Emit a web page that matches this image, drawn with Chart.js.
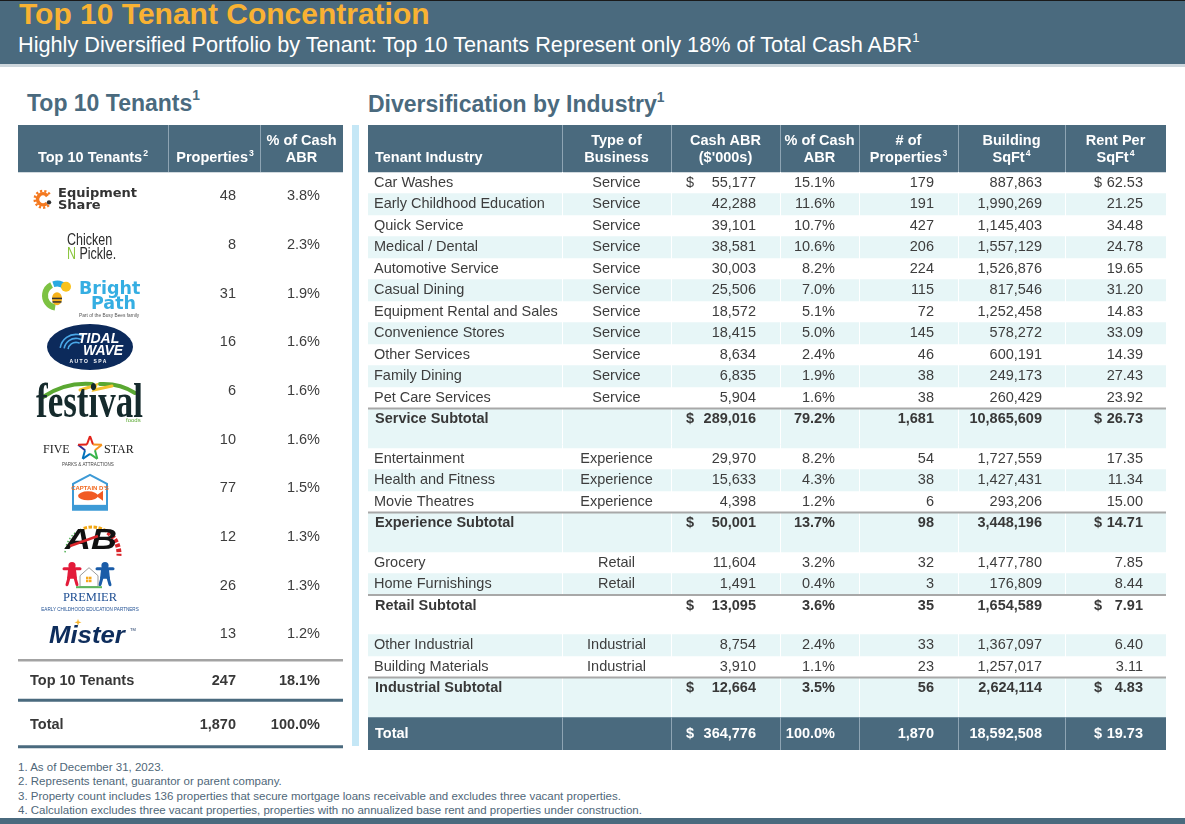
<!DOCTYPE html>
<html>
<head>
<meta charset="utf-8">
<title>Top 10 Tenant Concentration</title>
<script src="https://cdn.jsdelivr.net/npm/chart.js@4.4.1/dist/chart.umd.min.js"></script>
<style>
  html, body { margin: 0; padding: 0; }
  body { width: 1185px; height: 824px; position: relative; overflow: hidden; background: #fff;
         font-family: "Liberation Sans", Arial, sans-serif; }
  .abs { position: absolute; white-space: nowrap; }
  #band { left: 0; top: 0; width: 1185px; height: 64px; background: #4a6a7e; border-top: 1px solid #1a1a1a; box-sizing: border-box; }
  #bandLine { left: 0; top: 64px; width: 1185px; height: 3px; background: #cdd6dc; }
  #title { left: 19px; top: -1px; font-size: 30px; line-height: 30px; font-weight: bold; color: #f9b233; }
  #subtitle { left: 18px; top: 34px; font-size: 21.7px; line-height: 21.7px; color: #fff; }
  .sup { font-size: 60%; position: relative; top: -0.75em; }
  .heading { font-size: 23px; line-height: 23px; font-weight: bold; color: #4a6a7e; }
  #leftBox { left: 18px; top: 125px; width: 325px; height: 625px; }
  #rightBox { left: 368px; top: 125px; width: 798px; height: 625px; }
  #divider { left: 352px; top: 125px; width: 7px; height: 621px; background: #c5e7f6; }
  #notes { left: 18px; top: 760px; font-size: 11.5px; line-height: 14.3px; color: #4f6779; }
  #footBand { left: 0; top: 818px; width: 1185px; height: 6px; background: #4a6a7e; }
</style>
</head>
<body>
<div id="band" class="abs"></div>
<div id="bandLine" class="abs"></div>
<div id="title" class="abs">Top 10 Tenant Concentration</div>
<div id="subtitle" class="abs">Highly Diversified Portfolio by Tenant: Top 10 Tenants Represent only 18% of Total Cash ABR<span class="sup">1</span></div>

<div class="abs heading" style="left:27px; top:91.5px;">Top 10 Tenants<span class="sup">1</span></div>
<div class="abs heading" style="left:368px; top:93px;">Diversification by Industry<span class="sup">1</span></div>

<div id="leftBox" class="abs"><canvas id="tenantTable"></canvas></div>
<div id="divider" class="abs"></div>
<div id="rightBox" class="abs"><canvas id="industryTable"></canvas></div>

<div id="notes" class="abs">1. As of December 31, 2023.<br>2. Represents tenant, guarantor or parent company.<br>3. Property count includes 136 properties that secure mortgage loans receivable and excludes three vacant properties.<br>4. Calculation excludes three vacant properties, properties with no annualized base rent and properties under construction.</div>
<div id="footBand" class="abs"></div>

<script>
// ---- data: top 10 tenants ----
const tenants = ['EquipmentShare', 'Chicken N Pickle', 'Bright Path', 'Tidal Wave Auto Spa', 'Festival Foods',
                 'Five Star Parks & Attractions', "Captain D's", 'AB', 'Premier Early Childhood Education Partners', 'Mister'];
const tenantProps = [48, 8, 31, 16, 6, 10, 77, 12, 26, 13];
const tenantPct = [3.8, 2.3, 1.9, 1.6, 1.6, 1.6, 1.5, 1.3, 1.3, 1.2];
const top10Props = 247;
const top10Pct = 18.1;
const tenantHeaders = [['Top 10 Tenants^2'], ['Properties^3'], ['% of Cash', 'ABR']];

// ---- data: diversification by industry ----
const industries = ['Car Washes', 'Early Childhood Education', 'Quick Service', 'Medical / Dental', 'Automotive Service',
  'Casual Dining', 'Equipment Rental and Sales', 'Convenience Stores', 'Other Services', 'Family Dining', 'Pet Care Services',
  'Entertainment', 'Health and Fitness', 'Movie Theatres', 'Grocery', 'Home Furnishings', 'Other Industrial', 'Building Materials'];
const businessTypes = ['Service', 'Service', 'Service', 'Service', 'Service', 'Service', 'Service', 'Service', 'Service', 'Service', 'Service',
  'Experience', 'Experience', 'Experience', 'Retail', 'Retail', 'Industrial', 'Industrial'];
const cashAbr = [55177, 42288, 39101, 38581, 30003, 25506, 18572, 18415, 8634, 6835, 5904, 29970, 15633, 4398, 11604, 1491, 8754, 3910];
const pctCashAbr = [15.1, 11.6, 10.7, 10.6, 8.2, 7.0, 5.1, 5.0, 2.4, 1.9, 1.6, 8.2, 4.3, 1.2, 3.2, 0.4, 2.4, 1.1];
const propertyCounts = [179, 191, 427, 206, 224, 115, 72, 145, 46, 38, 38, 54, 38, 6, 32, 3, 33, 23];
const buildingSqft = [887863, 1990269, 1145403, 1557129, 1526876, 817546, 1252458, 578272, 600191, 249173, 260429,
  1727559, 1427431, 293206, 1477780, 176809, 1367097, 1257017];
const rentPerSqft = [62.53, 21.25, 34.48, 24.78, 19.65, 31.20, 14.83, 33.09, 14.39, 27.43, 23.92, 17.35, 11.34, 15.00, 7.85, 8.44, 6.40, 3.11];

const groups = ['Service', 'Experience', 'Retail', 'Industrial'];
const subtotalCash = [289016, 50001, 13095, 12664];
const subtotalPct = [79.2, 13.7, 3.6, 3.5];
const subtotalProps = [1681, 98, 35, 56];
const subtotalSqft = [10865609, 3448196, 1654589, 2624114];
const subtotalRent = [26.73, 14.71, 7.91, 4.83];

const totalCash = 364776;
const totalPct = 100.0;
const totalProps = 1870;
const totalSqft = 18592508;
const totalRent = 19.73;

const industryHeaders = [['Tenant Industry'], ['Type of', 'Business'], ['Cash ABR', "($'000s)"], ['% of Cash', 'ABR'],
  ['# of', 'Properties^3'], ['Building', 'SqFt^4'], ['Rent Per', 'SqFt^4']];

// ---- styling / layout ----
const SLATE = '#4a6a7e';
const CYAN = '#e7f6f7';
const INK = '#3d3d3d';
const FAMILY = '"Liberation Sans", Arial, sans-serif';

const fmtInt = v => v.toLocaleString('en-US');
const fmtPct = v => v.toFixed(1) + '%';
const fmtRent = v => v.toFixed(2);

function line(ctx, x1, y1, x2, y2, color, w) {
  ctx.strokeStyle = color;
  ctx.lineWidth = w || 1;
  ctx.beginPath();
  ctx.moveTo(x1, y1);
  ctx.lineTo(x2, y2);
  ctx.stroke();
}

// text with an optional superscript written as 'base^sup'
function supText(ctx, text, x, y, align, size, weight) {
  const parts = text.split('^');
  const base = parts[0], sup = parts[1];
  const baseFont = `${weight} ${size}px ${FAMILY}`;
  const supFont = `${weight} ${size * 0.6}px ${FAMILY}`;
  ctx.font = baseFont;
  const wb = ctx.measureText(base).width;
  let ws = 0;
  if (sup) { ctx.font = supFont; ws = ctx.measureText(sup).width + 1; }
  const total = wb + ws;
  const left = align === 'center' ? x - total / 2 : align === 'right' ? x - total : x;
  ctx.textAlign = 'left';
  ctx.textBaseline = 'middle';
  ctx.font = baseFont;
  ctx.fillText(base, left, y);
  if (sup) {
    ctx.font = supFont;
    ctx.fillText(sup, left + wb + 1, y - size * 0.28);
  }
}

function cell(ctx, text, x, y, align, weight) {
  ctx.font = `${weight || 'normal'} 14.5px ${FAMILY}`;
  ctx.textAlign = align;
  ctx.textBaseline = 'middle';
  ctx.fillText(text, x, y);
}

function tableChart(canvasId, width, height, bands, plugin) {
  return new Chart(document.getElementById(canvasId), {
    type: 'bar',
    data: {
      datasets: bands.map(b => ({
        data: b.rows.map(r => ({ x: [0, width], y: r.top + r.h / 2 })),
        backgroundColor: b.color,
        barThickness: b.thickness,
        borderWidth: 0,
        grouped: false
      }))
    },
    options: {
      indexAxis: 'y',
      responsive: true,
      maintainAspectRatio: false,
      animation: false,
      events: [],
      layout: { padding: 0 },
      scales: {
        x: { type: 'linear', min: 0, max: width, offset: false, display: false },
        y: { type: 'linear', min: 0, max: height, reverse: true, offset: false, display: false }
      },
      plugins: { legend: { display: false }, tooltip: { enabled: false } }
    },
    plugins: [plugin]
  });
}

// ================= right table: diversification by industry =================
const R_W = 798, R_H = 625;
const R_COLS = [0, 194, 303, 412, 491, 590, 697, 798];
const R_HEAD = 47, R_ROW = 21.5, R_SUB = 39.5, R_TOTAL = 33;
const RX = { label: 6, bold: 7, type: 248.5, cashSign: 318, cash: 388, pct: 467, props: 566, sqft: 674, rentSign: 726, rent: 775 };

const rRows = [];
(function buildRows() {
  let pos = R_HEAD, stripe = 0;
  groups.forEach((g, gi) => {
    industries.forEach((name, i) => {
      if (businessTypes[i] !== g) return;
      rRows.push({ kind: 'data', i, top: pos, h: R_ROW, shade: stripe++ % 2 === 1 });
      pos += R_ROW;
    });
    rRows.push({ kind: 'sub', gi, top: pos, h: R_SUB, shade: stripe++ % 2 === 1 });
    pos += R_SUB;
  });
  rRows.push({ kind: 'total', top: pos, h: R_TOTAL });
})();

const industryCells = {
  id: 'industryCells',
  afterDatasetsDraw(chart) {
    const ctx = chart.ctx;
    const px = v => chart.scales.x.getPixelForValue(v);
    const py = v => chart.scales.y.getPixelForValue(v);
    const totalRow = rRows[rRows.length - 1];
    ctx.save();

    // column rules
    R_COLS.slice(1, -1).forEach(c => {
      const xx = Math.round(px(c)) + 0.5;
      line(ctx, xx, py(0), xx, py(R_HEAD), '#8ea4b3');
      line(ctx, xx, py(R_HEAD), xx, py(totalRow.top), '#ffffff');
      line(ctx, xx, py(totalRow.top), xx, py(totalRow.top + totalRow.h), '#8ea4b3');
    });
    // rules above subtotals
    rRows.filter(r => r.kind === 'sub').forEach(r => {
      line(ctx, px(0), py(r.top), px(R_W), py(r.top), '#a8a8a8', 2);
    });

    // header
    ctx.fillStyle = '#ffffff';
    industryHeaders.forEach((lines, c) => {
      const first = c === 0;
      const x = first ? px(R_COLS[0] + RX.bold) : px((R_COLS[c] + R_COLS[c + 1]) / 2);
      const ys = lines.length === 2 ? [15.5, 32.5] : [32.5];
      lines.forEach((t, k) => supText(ctx, t, x, py(ys[k]), first ? 'left' : 'center', 14.5, 'bold'));
    });

    // body
    rRows.forEach(r => {
      const ym = py(r.top + (r.kind === 'total' ? r.h / 2 : R_ROW / 2));
      if (r.kind === 'data') {
        const i = r.i;
        ctx.fillStyle = INK;
        cell(ctx, industries[i], px(RX.label), ym, 'left');
        cell(ctx, businessTypes[i], px(RX.type), ym, 'center');
        if (i === 0) cell(ctx, '$', px(RX.cashSign), ym, 'left');
        cell(ctx, fmtInt(cashAbr[i]), px(RX.cash), ym, 'right');
        cell(ctx, fmtPct(pctCashAbr[i]), px(RX.pct), ym, 'right');
        cell(ctx, fmtInt(propertyCounts[i]), px(RX.props), ym, 'right');
        cell(ctx, fmtInt(buildingSqft[i]), px(RX.sqft), ym, 'right');
        if (i === 0) cell(ctx, '$', px(RX.rentSign), ym, 'left');
        cell(ctx, fmtRent(rentPerSqft[i]), px(RX.rent), ym, 'right');
      } else {
        const sub = r.kind === 'sub';
        ctx.fillStyle = sub ? '#383838' : '#ffffff';
        cell(ctx, sub ? groups[r.gi] + ' Subtotal' : 'Total', px(RX.bold), ym, 'left', 'bold');
        cell(ctx, '$', px(RX.cashSign), ym, 'left', 'bold');
        cell(ctx, fmtInt(sub ? subtotalCash[r.gi] : totalCash), px(RX.cash), ym, 'right', 'bold');
        cell(ctx, fmtPct(sub ? subtotalPct[r.gi] : totalPct), px(RX.pct), ym, 'right', 'bold');
        cell(ctx, fmtInt(sub ? subtotalProps[r.gi] : totalProps), px(RX.props), ym, 'right', 'bold');
        cell(ctx, fmtInt(sub ? subtotalSqft[r.gi] : totalSqft), px(RX.sqft), ym, 'right', 'bold');
        cell(ctx, '$', px(RX.rentSign), ym, 'left', 'bold');
        cell(ctx, fmtRent(sub ? subtotalRent[r.gi] : totalRent), px(RX.rent), ym, 'right', 'bold');
      }
    });
    ctx.restore();
  }
};

tableChart('industryTable', R_W, R_H, [
  { rows: [{ top: 0, h: R_HEAD }], color: SLATE, thickness: R_HEAD },
  { rows: rRows.filter(r => r.kind === 'data' && r.shade), color: CYAN, thickness: R_ROW },
  { rows: rRows.filter(r => r.kind === 'sub' && r.shade), color: CYAN, thickness: R_SUB },
  { rows: rRows.filter(r => r.kind === 'total'), color: SLATE, thickness: R_TOTAL }
], industryCells);

// ================= left table: top 10 tenants =================
const L_W = 325, L_H = 625;
const L_COLS = [0, 150, 242, 325];
const L_HEAD = 47, L_ROW = 48.67;
const LX = { logo: 72, label: 12, props: 218, pct: 302 };

function person(ctx, x, y, color) {
  ctx.fillStyle = color;
  ctx.strokeStyle = color;
  ctx.beginPath(); ctx.arc(x, y, 3.6, 0, Math.PI * 2); ctx.fill();
  ctx.lineCap = 'round';
  line(ctx, x - 8, y + 3, x + 8, y + 3, color, 3);
  ctx.beginPath();
  ctx.moveTo(x - 4, y + 4); ctx.lineTo(x + 4, y + 4); ctx.lineTo(x + 5, y + 13); ctx.lineTo(x - 5, y + 13);
  ctx.closePath(); ctx.fill();
  line(ctx, x - 3, y + 12, x - 5, y + 19, color, 3);
  line(ctx, x + 3, y + 12, x + 5, y + 19, color, 3);
  ctx.lineCap = 'butt';
}

function drawLogo(ctx, i, cx, cy) {
  ctx.save();
  ctx.textBaseline = 'alphabetic';
  ctx.textAlign = 'left';
  switch (i) {
    case 0: { // EquipmentShare
      ctx.strokeStyle = '#f47920';
      ctx.lineWidth = 3.5;
      ctx.beginPath(); ctx.arc(cx - 47, cy + 3, 5.5, 0.25 * Math.PI, 1.8 * Math.PI); ctx.stroke();
      ctx.setLineDash([2.2, 2]);
      ctx.lineWidth = 2.5;
      ctx.beginPath(); ctx.arc(cx - 47, cy + 3, 8.3, 0.25 * Math.PI, 1.8 * Math.PI); ctx.stroke();
      ctx.setLineDash([]);
      ctx.fillStyle = '#333333';
      ctx.beginPath(); ctx.arc(cx - 41, cy + 6, 2.2, 0, Math.PI * 2); ctx.fill();
      ctx.font = 'bold 13px "DejaVu Sans", sans-serif';
      ctx.fillText('Equipment', cx - 32, cy + 1);
      ctx.fillText('Share', cx - 32, cy + 13);
      break;
    }
    case 1: { // Chicken N Pickle
      ctx.translate(cx - 23, cy);
      ctx.scale(0.78, 1);
      ctx.font = `16px ${FAMILY}`;
      ctx.fillStyle = '#2b2b2b';
      ctx.fillText('Chicken', 0, 0);
      ctx.fillStyle = '#8cc63f';
      ctx.fillText('N', 0, 14);
      const wN = ctx.measureText('N ').width;
      ctx.fillStyle = '#2b2b2b';
      ctx.fillText('Pickle.', wN, 14);
      break;
    }
    case 2: { // Bright Path
      const ix = cx - 33, iy = cy + 2;
      ctx.lineWidth = 6;
      ctx.strokeStyle = '#7dc242';
      ctx.beginPath(); ctx.arc(ix, iy, 12, 0.55 * Math.PI, 1.35 * Math.PI); ctx.stroke();
      ctx.strokeStyle = '#29a9e1';
      ctx.beginPath(); ctx.arc(ix, iy, 12, 1.4 * Math.PI, 1.75 * Math.PI); ctx.stroke();
      ctx.fillStyle = '#f9c21b';
      ctx.beginPath(); ctx.arc(ix + 9, iy - 9, 5, 0, Math.PI * 2); ctx.fill();
      ctx.fillStyle = '#f6b21a';
      ctx.beginPath(); ctx.ellipse(ix, iy + 3, 5, 6.5, 0, 0, Math.PI * 2); ctx.fill();
      ctx.fillStyle = '#333';
      ctx.fillRect(ix - 5, iy + 2, 10, 1.5);
      ctx.fillRect(ix - 4.5, iy + 5.5, 9, 1.5);
      ctx.fillStyle = '#35aee2';
      ctx.font = 'bold 17.5px "DejaVu Sans", sans-serif';
      ctx.fillText('Bright', cx - 11, cy + 0.5);
      ctx.fillText('Path', cx + 1, cy + 15.5);
      ctx.fillStyle = '#555';
      ctx.font = `4.8px ${FAMILY}`;
      ctx.fillText('Part of the Busy Bees family', cx - 11, cy + 23);
      break;
    }
    case 3: { // Tidal Wave
      ctx.fillStyle = '#0c2a5b';
      ctx.beginPath(); ctx.ellipse(cx, cy + 4.7, 43, 23, 0, 0, Math.PI * 2); ctx.fill();
      ctx.strokeStyle = '#4aa8e8';
      ctx.lineWidth = 1.6;
      [8, 12, 16].forEach(rr => {
        ctx.beginPath(); ctx.arc(cx - 14, cy + 8, rr, 1.05 * Math.PI, 1.65 * Math.PI); ctx.stroke();
      });
      ctx.fillStyle = '#ffffff';
      ctx.font = `italic bold 14px ${FAMILY}`;
      ctx.fillText('TIDAL', cx - 12, cy + 0.5);
      ctx.fillText('WAVE', cx - 7, cy + 13);
      ctx.font = `bold 5px ${FAMILY}`;
      ctx.textAlign = 'center';
      ctx.fillText('A U T O    S P A', cx - 2, cy + 21);
      break;
    }
    case 4: { // Festival Foods
      ctx.lineCap = 'round';
      ctx.strokeStyle = '#5aa832';
      ctx.lineWidth = 4;
      ctx.beginPath(); ctx.moveTo(cx - 47, cy + 6); ctx.quadraticCurveTo(cx - 25, cy - 9, cx + 2, cy - 7); ctx.stroke();
      ctx.beginPath(); ctx.moveTo(cx + 10, cy - 7); ctx.quadraticCurveTo(cx + 30, cy - 8, cx + 45, cy + 2); ctx.stroke();
      ctx.strokeStyle = '#f2c230';
      ctx.lineWidth = 3;
      ctx.beginPath(); ctx.moveTo(cx - 10, cy - 1); ctx.lineTo(cx + 6, cy - 6); ctx.lineTo(cx + 4, cy - 1); ctx.lineTo(cx + 22, cy - 5); ctx.stroke();
      ctx.save();
      ctx.translate(cx - 54, cy + 26);
      ctx.scale(1, 1.4);
      ctx.fillStyle = '#152a2c';
      ctx.font = 'bold 35px "Liberation Serif", serif';
      ctx.fillText('festival', 0, 0);
      ctx.restore();
      ctx.fillStyle = '#5aa832';
      ctx.font = `6px ${FAMILY}`;
      ctx.fillText('foods', cx + 36, cy + 31);
      break;
    }
    case 5: { // Five Star
      ctx.fillStyle = '#222';
      ctx.font = '12px "Liberation Serif", serif';
      ctx.fillText('FIVE', cx - 47, cy + 13);
      ctx.fillText('STAR', cx + 14, cy + 13);
      const sx = cx, sy = cy + 9;
      const colors = ['#e2231a', '#f7941d', '#f7941d', '#39b54a', '#39b54a', '#0072bc', '#0072bc', '#2e3192', '#e2231a', '#e2231a'];
      const pts = [];
      for (let k = 0; k < 10; k++) {
        const a = -Math.PI / 2 + k * Math.PI / 5, rr = k % 2 ? 5.2 : 12.5;
        pts.push([sx + rr * Math.cos(a), sy + rr * Math.sin(a)]);
      }
      pts.forEach((p, k) => {
        const q = pts[(k + 1) % 10];
        line(ctx, p[0], p[1], q[0], q[1], colors[k], 2);
      });
      ctx.fillStyle = '#444';
      ctx.font = `4.5px ${FAMILY}`;
      ctx.fillText('PARKS & ATTRACTIONS', cx - 28, cy + 26);
      break;
    }
    case 6: { // Captain D's
      const top = cy - 13.5, bot = cy + 21.5;
      ctx.strokeStyle = '#3d9ad6';
      ctx.lineWidth = 2;
      ctx.beginPath();
      ctx.moveTo(cx, top); ctx.lineTo(cx + 17, top + 9); ctx.lineTo(cx + 17, bot);
      ctx.lineTo(cx - 17, bot); ctx.lineTo(cx - 17, top + 9); ctx.closePath(); ctx.stroke();
      ctx.fillStyle = '#3d9ad6';
      ctx.fillRect(cx - 17, bot - 5, 34, 5);
      ctx.fillStyle = '#f26a21';
      ctx.font = `bold 6px ${FAMILY}`;
      ctx.textAlign = 'center';
      ctx.fillText("CAPTAIN D'S", cx, top + 15);
      ctx.fillStyle = '#f15a24';
      ctx.beginPath(); ctx.ellipse(cx - 2, top + 21, 10, 4.5, 0, 0, Math.PI * 2); ctx.fill();
      ctx.beginPath(); ctx.moveTo(cx + 6, top + 21); ctx.lineTo(cx + 13, top + 16); ctx.lineTo(cx + 13, top + 26); ctx.closePath(); ctx.fill();
      break;
    }
    case 7: { // AB
      const gx = cx + 2, gy = cy + 17;
      ctx.lineWidth = 5;
      ctx.setLineDash([3.5, 1.5]);
      ctx.strokeStyle = '#d9252a';
      ctx.beginPath(); ctx.arc(gx, gy, 27, -0.3 * Math.PI, 0.02 * Math.PI); ctx.stroke();
      ctx.strokeStyle = '#f3a712';
      ctx.lineWidth = 3;
      ctx.beginPath(); ctx.arc(gx, gy, 27, -0.6 * Math.PI, -0.32 * Math.PI); ctx.stroke();
      ctx.strokeStyle = '#4caf50';
      ctx.lineWidth = 1.5;
      ctx.setLineDash([1.5, 2]);
      ctx.beginPath(); ctx.arc(gx, gy, 27, -0.98 * Math.PI, -0.62 * Math.PI); ctx.stroke();
      ctx.setLineDash([]);
      ctx.save();
      ctx.translate(cx - 25, cy + 12);
      ctx.scale(1.2, 1);
      ctx.fillStyle = '#111';
      ctx.font = `italic bold 30px ${FAMILY}`;
      ctx.fillText('AB', 0, 0);
      ctx.restore();
      line(ctx, cx - 20, cy + 9, cx + 8, cy - 1, '#d9252a', 2.5);
      break;
    }
    case 8: { // Premier
      person(ctx, cx - 18, cy - 20, '#e31b3a');
      person(ctx, cx + 15, cy - 20, '#1a5ca8');
      ctx.strokeStyle = '#9a9a9a';
      ctx.lineWidth = 1;
      ctx.beginPath();
      ctx.moveTo(cx - 10, cy - 10); ctx.lineTo(cx - 1, cy - 18); ctx.lineTo(cx + 8, cy - 10);
      ctx.lineTo(cx + 8, cy + 1); ctx.lineTo(cx - 10, cy + 1); ctx.closePath(); ctx.stroke();
      ctx.fillStyle = '#f7a81b';
      ctx.fillRect(cx - 4, cy - 9, 2.5, 2.5); ctx.fillRect(cx - 1, cy - 9, 2.5, 2.5);
      ctx.fillRect(cx - 4, cy - 6, 2.5, 2.5); ctx.fillRect(cx - 1, cy - 6, 2.5, 2.5);
      line(ctx, cx - 14, cy + 1.5, cx + 12, cy + 1.5, '#5cb85c', 2);
      ctx.fillStyle = '#1f4f93';
      ctx.textAlign = 'center';
      ctx.font = '12.5px "Liberation Serif", serif';
      ctx.fillText('PREMIER', cx, cy + 15);
      ctx.font = `4.6px ${FAMILY}`;
      ctx.fillText('EARLY CHILDHOOD EDUCATION PARTNERS', cx, cy + 25);
      break;
    }
    case 9: { // Mister
      ctx.save();
      ctx.translate(cx - 41, cy + 9);
      ctx.scale(1.12, 1);
      ctx.fillStyle = '#0e2d5c';
      ctx.font = `italic bold 23px ${FAMILY}`;
      ctx.fillText('Mister', 0, 0);
      ctx.restore();
      ctx.fillStyle = '#f7b52c';
      ctx.beginPath();
      for (let k = 0; k < 8; k++) {
        const a = k * Math.PI / 4, rr = k % 2 ? 1.2 : 3.5;
        ctx.lineTo(cx - 12 + rr * Math.cos(a), cy - 12 + rr * Math.sin(a));
      }
      ctx.closePath(); ctx.fill();
      ctx.fillStyle = '#0e2d5c';
      ctx.font = `4px ${FAMILY}`;
      ctx.fillText('TM', cx + 40, cy - 3);
      break;
    }
  }
  ctx.restore();
}

const tenantCells = {
  id: 'tenantCells',
  afterDatasetsDraw(chart) {
    const ctx = chart.ctx;
    const px = v => chart.scales.x.getPixelForValue(v);
    const py = v => chart.scales.y.getPixelForValue(v);
    const bodyEnd = L_HEAD + L_ROW * tenants.length;
    ctx.save();

    // header
    L_COLS.slice(1, -1).forEach(c => {
      const xx = Math.round(px(c)) + 0.5;
      line(ctx, xx, py(0), xx, py(L_HEAD), '#8ea4b3');
    });
    ctx.fillStyle = '#ffffff';
    tenantHeaders.forEach((lines, c) => {
      const x = px((L_COLS[c] + L_COLS[c + 1]) / 2) + (c === 1 ? 1 : 0);
      const ys = lines.length === 2 ? [15.5, 32.5] : [32.5];
      lines.forEach((t, k) => supText(ctx, t, x, py(ys[k]), 'center', 14.5, 'bold'));
    });

    // tenant rows
    tenants.forEach((name, i) => {
      const ym = py(L_HEAD + L_ROW * (i + 0.5));
      drawLogo(ctx, i, px(LX.logo), ym);
      ctx.fillStyle = INK;
      cell(ctx, fmtInt(tenantProps[i]), px(LX.props), ym, 'right');
      cell(ctx, fmtPct(tenantPct[i]), px(LX.pct), ym, 'right');
    });

    // summary rows and rules
    line(ctx, px(0), py(bodyEnd + 1.5), px(L_W), py(bodyEnd + 1.5), '#a3a3a3', 2.5);
    ctx.fillStyle = '#383838';
    let ym = py(bodyEnd + 22);
    cell(ctx, 'Top 10 Tenants', px(LX.label), ym, 'left', 'bold');
    cell(ctx, fmtInt(top10Props), px(LX.props), ym, 'right', 'bold');
    cell(ctx, fmtPct(top10Pct), px(LX.pct), ym, 'right', 'bold');
    line(ctx, px(0), py(bodyEnd + 41.5), px(L_W), py(bodyEnd + 41.5), SLATE, 3);
    ym = py(bodyEnd + 66.5);
    ctx.fillStyle = '#383838';
    cell(ctx, 'Total', px(LX.label), ym, 'left', 'bold');
    cell(ctx, fmtInt(totalProps), px(LX.props), ym, 'right', 'bold');
    cell(ctx, fmtPct(totalPct), px(LX.pct), ym, 'right', 'bold');
    line(ctx, px(0), py(bodyEnd + 88), px(L_W), py(bodyEnd + 88), SLATE, 3);
    ctx.restore();
  }
};

tableChart('tenantTable', L_W, L_H, [
  { rows: [{ top: 0, h: L_HEAD }], color: SLATE, thickness: L_HEAD }
], tenantCells);
</script>
</body>
</html>
